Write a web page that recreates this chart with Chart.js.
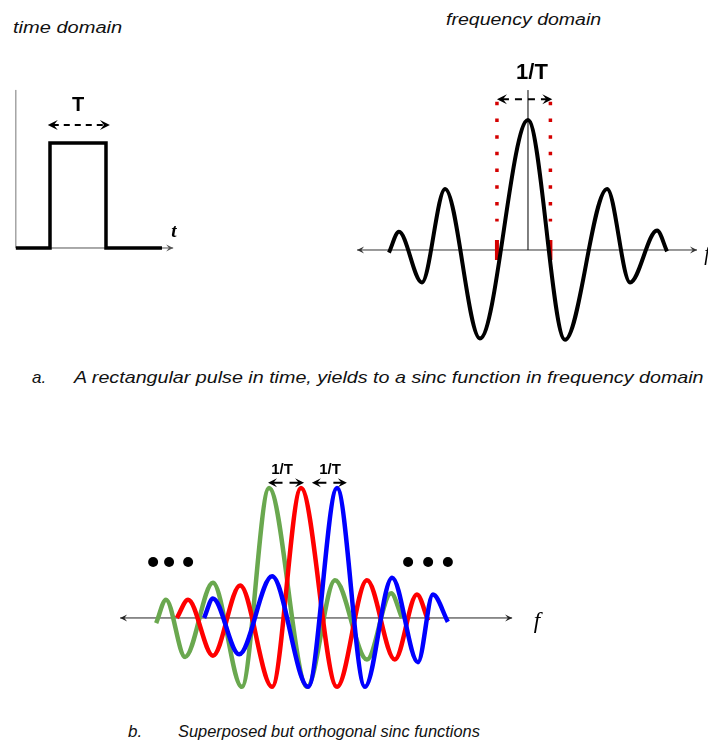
<!DOCTYPE html>
<html>
<head>
<meta charset="utf-8">
<script src="https://cdn.jsdelivr.net/npm/chart.js@4.4.1/dist/chart.umd.min.js"></script>
<style>
  body { margin: 0; background: #fff; }
  .page { position: relative; width: 708px; height: 741px; overflow: hidden; font-family: "Liberation Sans", Arial, sans-serif; color: #111; }
  canvas { position: absolute; }
  .txt { position: absolute; white-space: nowrap; font-style: italic; font-size: 16px; line-height: 16px; transform-origin: left top; }
  .cap { font-size: 17px; line-height: 17px; }
  .lbl { position: absolute; white-space: nowrap; transform: translate(-50%, -50%); font-weight: bold; color: #000; }
  .var { position: absolute; white-space: nowrap; transform: translate(-50%, -50%); font-family: "Liberation Serif", "DejaVu Serif", serif; font-style: italic; color: #000; }
</style>
</head>
<body>
<div class="page">
  <canvas id="pulseChart" width="200" height="210" style="left:0px;top:60px"></canvas>
  <canvas id="sincChart" width="368" height="320" style="left:340px;top:40px"></canvas>
  <canvas id="ofdmChart" width="460" height="260" style="left:100px;top:450px"></canvas>

  <div class="txt" data-w="109" style="left:13px;top:20px">time domain</div>
  <div class="txt" data-w="155" style="left:446px;top:12px">frequency domain</div>
  <div class="txt cap" style="left:32px;top:369px">a.</div>
  <div class="txt cap" data-w="630" style="left:74px;top:369px">A rectangular pulse in time, yields to a sinc function in frequency domain</div>
  <div class="txt cap" style="left:128px;top:723px">b.</div>
  <div class="txt cap" data-w="302" style="left:178px;top:723px">Superposed but orthogonal sinc functions</div>

  <div class="lbl" style="left:78px;top:104px;font-size:20px">T</div>
  <div class="var" style="left:174px;top:231px;font-size:19px;font-weight:bold">t</div>
  <div class="lbl" style="left:532px;top:72px;font-size:22px">1/T</div>
  <div class="var" style="left:707px;top:253px;font-size:20px">f</div>
  <div class="lbl" style="left:282px;top:468px;font-size:15px">1/T</div>
  <div class="lbl" style="left:330px;top:468px;font-size:15px">1/T</div>
  <div class="var" style="left:537px;top:621px;font-size:23px">f</div>
</div>

<script>
// Rectangular pulse (time in units of T, amplitude)
var pulseTime = [-0.61, 0, 0, 1, 1, 2.0];
var pulseAmp = [0, 0, 1, 1, 0, 0];

// Sinc spectrum (frequency in units of 1/T, amplitude) - extrema
var sincFreq = [-5.15, -4.78, -3.93, -3.07, -1.78, 0, 1.37, 2.93, 3.78, 4.78, 5.15];
var sincAmp = [-0.02, 0.14, -0.25, 0.47, -0.68, 1.0, -0.69, 0.47, -0.25, 0.15, -0.01];
var bandEdges = [-1.15, 0.83];

// Superposed sub-carriers
var greenFreq = [-4.26, -3.97, -3.41, -2.59, -1.74, -0.94, 0.18, 1.0, 1.94, 2.65, 2.97];
var greenAmp = [-0.04, 0.14, -0.3, 0.27, -0.53, 1.0, -0.53, 0.29, -0.32, 0.19, 0.0];
var redFreq = [-3.65, -3.32, -2.59, -1.79, -0.85, 0, 1.06, 1.94, 2.76, 3.41, 3.74];
var redAmp = [0.0, 0.14, -0.29, 0.25, -0.53, 1.0, -0.53, 0.29, -0.32, 0.18, -0.02];
var blueFreq = [-2.85, -2.59, -1.82, -0.85, 0.21, 1.06, 1.88, 2.68, 3.44, 3.88, 4.32];
var blueAmp = [0.0, 0.15, -0.28, 0.32, -0.53, 1.0, -0.53, 0.31, -0.34, 0.18, -0.03];
var dotsLeft = [-4.35, -3.88, -3.32];
var dotsRight = [3.15, 3.74, 4.32];

function toPoints(xs, ys) {
  return xs.map(function (x, i) {
    return { x: x, y: ys[i] };
  });
}

function baseOptions(xMin, xMax, yMin, yMax) {
  return {
    responsive: false,
    animation: false,
    devicePixelRatio: 1,
    layout: { padding: 0 },
    plugins: { legend: { display: false }, tooltip: { enabled: false } },
    elements: { point: { radius: 0 } },
    scales: {
      x: { type: "linear", min: xMin, max: xMax, display: false },
      y: { type: "linear", min: yMin, max: yMax, display: false },
    },
  };
}

function arrowHead(ctx, x, y, dir, size) {
  ctx.beginPath();
  ctx.moveTo(x, y);
  ctx.lineTo(x - dir * size, y - size * 0.5);
  ctx.lineTo(x - dir * size * 0.6, y);
  ctx.lineTo(x - dir * size, y + size * 0.5);
  ctx.closePath();
  ctx.fill();
}

// horizontal axis with arrow(s)
function axisLine(ctx, x1, x2, y, both, color) {
  ctx.save();
  ctx.strokeStyle = color;
  ctx.fillStyle = color;
  ctx.lineWidth = 1;
  ctx.beginPath();
  ctx.moveTo(x1, y);
  ctx.lineTo(x2, y);
  ctx.stroke();
  arrowHead(ctx, x2, y, 1, 7);
  if (both) arrowHead(ctx, x1, y, -1, 7);
  ctx.restore();
}

// dashed double arrow used for T / 1/T
function dimArrow(ctx, x1, x2, y, dash, lw, head) {
  ctx.save();
  ctx.strokeStyle = "#000";
  ctx.fillStyle = "#000";
  ctx.lineWidth = lw;
  ctx.setLineDash(dash);
  ctx.beginPath();
  ctx.moveTo(x1 + head * 0.5, y);
  ctx.lineTo(x2 - head * 0.5, y);
  ctx.stroke();
  ctx.setLineDash([]);
  arrowHead(ctx, x1, y, -1, head);
  arrowHead(ctx, x2, y, 1, head);
  ctx.restore();
}

// Pulse Chart
var pulseCanvas = document.getElementById("pulseChart");
new Chart(pulseCanvas.getContext("2d"), {
  type: "line",
  data: {
    datasets: [
      {
        data: toPoints(pulseTime, pulseAmp),
        borderColor: "#000",
        borderWidth: 3.5,
        borderJoinStyle: "miter",
        tension: 0,
      },
    ],
  },
  options: baseOptions(-0.893, 2.679, -0.2095, 1.79),
  plugins: [
    {
      id: "pulseAxes",
      beforeDatasetsDraw: function (chart) {
        var ctx = chart.ctx, sx = chart.scales.x, sy = chart.scales.y;
        var x0 = sx.getPixelForValue(-0.61), y0 = sy.getPixelForValue(0);
        ctx.save();
        ctx.strokeStyle = "#777";
        ctx.lineWidth = 1;
        ctx.beginPath();
        ctx.moveTo(x0, sy.getPixelForValue(1.505));
        ctx.lineTo(x0, y0);
        ctx.stroke();
        ctx.restore();
        axisLine(ctx, x0, sx.getPixelForValue(2.2), y0, false, "#555");
      },
      afterDatasetsDraw: function (chart) {
        var sx = chart.scales.x, sy = chart.scales.y;
        dimArrow(chart.ctx, sx.getPixelForValue(-0.04), sx.getPixelForValue(1.07), sy.getPixelForValue(1.17), [6, 5], 2, 10);
      },
    },
  ],
});

// Sinc Chart
var sincCanvas = document.getElementById("sincChart");
new Chart(sincCanvas.getContext("2d"), {
  type: "line",
  data: {
    datasets: [
      {
        data: toPoints(sincFreq, sincAmp),
        borderColor: "#000",
        borderWidth: 4,
        cubicInterpolationMode: "monotone",
      },
      {
        data: toPoints([0, 0], [0, 1.23]),
        borderColor: "#000",
        borderWidth: 1,
      },
      {
        data: toPoints([bandEdges[0], bandEdges[0]], [1.14, 0.22]),
        borderColor: "#d40000",
        borderWidth: 3.5,
        borderDash: [3.5, 13.2],
      },
      {
        data: toPoints([bandEdges[1], bandEdges[1]], [1.14, 0.22]),
        borderColor: "#d40000",
        borderWidth: 3.5,
        borderDash: [3.5, 13.2],
      },
      {
        data: toPoints([bandEdges[0], bandEdges[0]], [0.077, -0.077]),
        borderColor: "#d40000",
        borderWidth: 4,
      },
      {
        data: toPoints([bandEdges[1], bandEdges[1]], [0.077, -0.077]),
        borderColor: "#d40000",
        borderWidth: 4,
      },
    ],
  },
  options: baseOptions(-6.963, 6.667, -0.846, 1.615),
  plugins: [
    {
      id: "sincAxes",
      beforeDatasetsDraw: function (chart) {
        var sx = chart.scales.x, sy = chart.scales.y;
        axisLine(chart.ctx, sx.getPixelForValue(-6.33), sx.getPixelForValue(6.26), sy.getPixelForValue(0), true, "#333");
      },
      afterDatasetsDraw: function (chart) {
        var sx = chart.scales.x, sy = chart.scales.y;
        dimArrow(chart.ctx, sx.getPixelForValue(-1.15), sx.getPixelForValue(0.9), sy.getPixelForValue(1.16), [7, 6], 2, 10);
      },
    },
  ],
});

// Superposed sinc Chart
var ofdmCanvas = document.getElementById("ofdmChart");
new Chart(ofdmCanvas.getContext("2d"), {
  type: "line",
  data: {
    datasets: [
      {
        data: toPoints(blueFreq, blueAmp),
        borderColor: "#0000ff",
        borderWidth: 4.5,
        cubicInterpolationMode: "monotone",
      },
      {
        data: toPoints(redFreq, redAmp),
        borderColor: "#ff0000",
        borderWidth: 4.5,
        cubicInterpolationMode: "monotone",
      },
      {
        data: toPoints(greenFreq, greenAmp),
        borderColor: "#6aa84f",
        borderWidth: 4.5,
        cubicInterpolationMode: "monotone",
      },
    ],
  },
  options: baseOptions(-5.912, 7.618, -0.708, 1.292),
  plugins: [
    {
      id: "ofdmAxes",
      beforeDatasetsDraw: function (chart) {
        var sx = chart.scales.x, sy = chart.scales.y;
        axisLine(chart.ctx, sx.getPixelForValue(-5.32), sx.getPixelForValue(6.21), sy.getPixelForValue(0), true, "#222");
      },
      afterDatasetsDraw: function (chart) {
        var ctx = chart.ctx, sx = chart.scales.x, sy = chart.scales.y;
        var ya = sy.getPixelForValue(1.04);
        dimArrow(ctx, sx.getPixelForValue(-0.97), sx.getPixelForValue(0.09), ya, [10, 7], 2, 9);
        dimArrow(ctx, sx.getPixelForValue(0.32), sx.getPixelForValue(1.35), ya, [10, 7], 2, 9);
        // ellipsis dots
        ctx.save();
        ctx.fillStyle = "#000";
        dotsLeft.concat(dotsRight).forEach(function (f) {
          ctx.beginPath();
          ctx.arc(sx.getPixelForValue(f), sy.getPixelForValue(0.43), 5, 0, Math.PI * 2);
          ctx.fill();
        });
        ctx.restore();
      },
    },
  ],
});

// stretch captions to the width they take in the picture
document.querySelectorAll(".txt[data-w]").forEach(function (el) {
  var s = parseFloat(el.getAttribute("data-w")) / el.offsetWidth;
  el.style.transform = "scaleX(" + s.toFixed(3) + ")";
});
</script>
</body>
</html>
